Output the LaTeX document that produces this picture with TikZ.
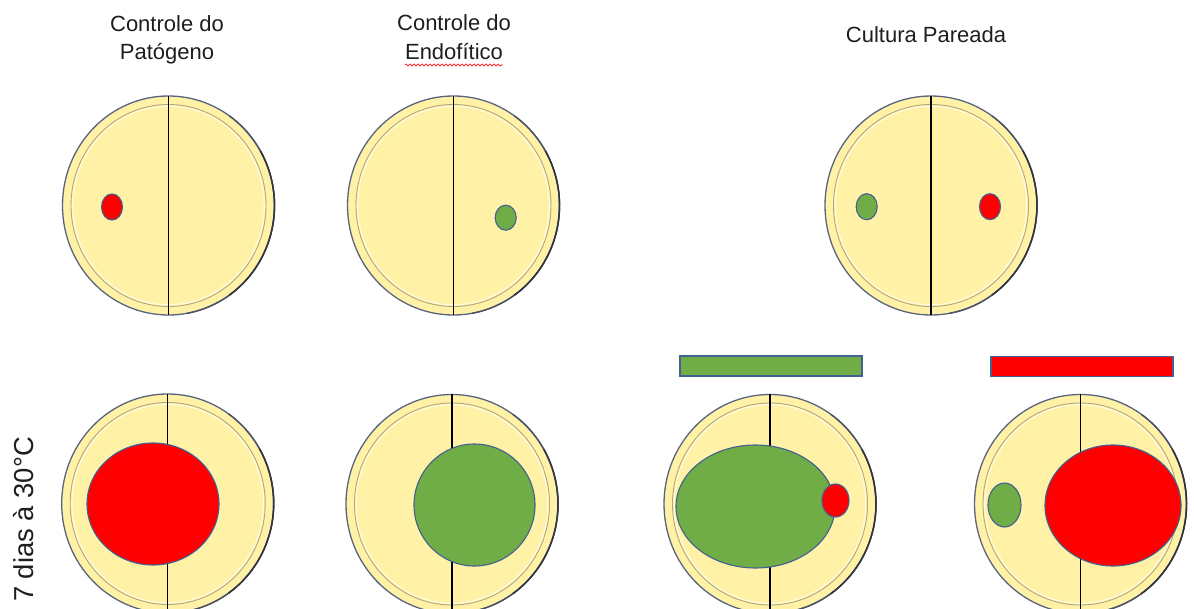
\documentclass[tikz,border=0pt]{standalone}
\usepackage{fontspec}
\setmainfont{Liberation Sans}
\usetikzlibrary{shapes.geometric,decorations.pathmorphing}
\definecolor{platefill}{RGB}{255,241,166}
\definecolor{plateedge}{RGB}{88,100,128}
\definecolor{plateshadow}{RGB}{50,52,62}
\definecolor{plateshadowlight}{RGB}{75,82,100}
\definecolor{ringdark}{RGB}{178,168,122}
\definecolor{ringlight}{RGB}{255,252,225}
\definecolor{colonyedge}{RGB}{66,96,145}
\definecolor{fungusgreen}{RGB}{112,173,71}
\definecolor{fungusred}{RGB}{255,0,0}
\definecolor{txt}{RGB}{30,30,30}
\tikzset{
  plate/.style={ellipse, draw=plateedge, line width=1.3pt, fill=platefill,
    minimum width=212, minimum height=219, inner sep=0pt, outer sep=0pt},
  shadowedge/.style={draw=plateshadow, line width=1.5pt},
  shadowsoft/.style={draw=plateshadowlight, line width=1.4pt},
  ringd/.style={draw=ringdark, line width=0.9pt},
  ringl/.style={draw=ringlight, line width=1.1pt},
  divider/.style={draw=black, line width=1.1pt},
  colony/.style={ellipse, draw=colonyedge, line width=1.1pt, inner sep=0pt, outer sep=0pt},
  gcol/.style={colony, fill=fungusgreen},
  rcol/.style={colony, fill=fungusred},
  bar/.style={rectangle, draw=colonyedge, line width=1.1pt, inner sep=0pt, outer sep=0pt,
    minimum width=182, minimum height=20},
  head/.style={font=\fontsize{22}{29}\selectfont, text=txt, inner sep=0pt, anchor=base},
  spell/.style={draw=red, line width=0.6pt, decorate,
    decoration={snake, amplitude=1.1pt, segment length=4pt}}
}
\begin{document}
\begin{tikzpicture}[x=1pt,y=-1pt]
\useasboundingbox (0,0) rectangle (1194,609);
\clip (0,0) rectangle (1194,609);

% headings
\node[head] (h1a) at (167,32) {Controle do};
\node[head] (h1b) at (167,60) {Patógeno};
\node[head] (h2a) at (454,31) {Controle do};
\node[head] (h2b) at (454,60) {Endofítico};
\draw[spell] ([yshift=-5pt]h2b.base west) -- ([yshift=-5pt]h2b.base east);
\node[head] (h3) at (926,43) {Cultura Pareada};
\node[font=\fontsize{27.4}{30}\selectfont, text=txt, inner sep=0pt, anchor=base, rotate=90] (t7) at (33,519.5) {7 dias à 30°C};

% plates
\foreach \n/\x/\y in {p1/168.5/205.5, p2/453.5/205.5, p3/931/205.5,
                      p4/167.7/503.5, p5/452/504, p6/1080.5/504, p7/770/504} {
  \node[plate] (\n) at (\x,\y) {};
  \draw[shadowsoft] ([shift={(-80:106pt and 109.5pt)}]\n.center) arc[start angle=-80, end angle=55, x radius=106pt, y radius=109.5pt];
  \draw[shadowedge] ([shift={(-55:106pt and 109.5pt)}]\n.center) arc[start angle=-55, end angle=30, x radius=106pt, y radius=109.5pt];
  \draw[ringd] (\n.center) ellipse [x radius=97.5pt, y radius=101pt];
  \draw[ringl] (\n.center) ellipse [x radius=95.8pt, y radius=99.3pt];
  \draw[divider] (\n.north) -- (\n.south);
}

% top row inocula
\node[rcol, minimum width=21, minimum height=26] (r1) at (112,207) {};
\node[gcol, minimum width=21, minimum height=25] (g2) at (505.7,217.7) {};
\node[gcol, minimum width=21, minimum height=26] (g3) at (866.7,206.7) {};
\node[rcol, minimum width=21, minimum height=26] (r3) at (990,206.7) {};

% bottom row growth
\node[rcol, minimum width=132, minimum height=122] (r4) at (153,504) {};
\node[gcol, minimum width=121, minimum height=122] (g5) at (474.5,505) {};
\node[gcol, minimum width=159, minimum height=123] (g7) at (755.5,506.5) {};
\node[rcol, minimum width=27, minimum height=33] (r7) at (835.5,500.5) {};
\node[gcol, minimum width=33, minimum height=44] (g6) at (1004.5,505) {};
\node[rcol, minimum width=136, minimum height=121] (r6) at (1113,505.5) {};

% bars
\node[bar, fill=fungusgreen] (b1) at (771,366) {};
\node[bar, fill=fungusred] (b2) at (1082,366.5) {};
\end{tikzpicture}
\end{document}
